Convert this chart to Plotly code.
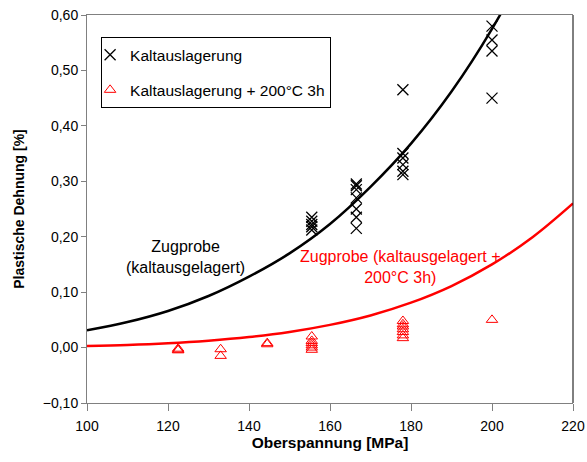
import plotly.graph_objects as go

# ---- data ----
x_kalt = [155.5]*5 + [166.5]*7 + [178]*6 + [200]*4
y_kalt = [0.235, 0.228, 0.222, 0.218, 0.212,
          0.295, 0.292, 0.285, 0.27, 0.25, 0.235, 0.215,
          0.35, 0.342, 0.33, 0.318, 0.312, 0.465,
          0.58, 0.555, 0.535, 0.45]

x_warm = [122.5]*3 + [133]*2 + [144.5]*2 + [155.5]*6 + [178]*7 + [200]
y_warm = [-0.002, -0.004, -0.005,
          -0.003, -0.015,
          0.006, 0.008,
          0.02, 0.012, 0.008, 0.004, 0.0, -0.004,
          0.048, 0.042, 0.038, 0.033, 0.028, 0.022, 0.017,
          0.05]

fit_x = [100, 110, 120, 130, 140, 150, 160, 170, 180, 190, 200, 210, 220]
fit_kalt = [0.031, 0.046, 0.066, 0.093, 0.128, 0.170, 0.223, 0.290, 0.368, 0.462, 0.575, 0.71, 0.87]
fit_warm = [0.003, 0.0047, 0.0077, 0.0123, 0.0189, 0.0282, 0.041, 0.058, 0.081, 0.111, 0.150, 0.199, 0.26]

x_ticks = [100, 120, 140, 160, 180, 200, 220]
y_ticks = [-0.10, 0.0, 0.10, 0.20, 0.30, 0.40, 0.50, 0.60]

FONT = "Liberation Sans, Arial, sans-serif"

fig = go.Figure()
fig.add_trace(go.Scatter(x=fit_x, y=fit_kalt, mode="lines", line=dict(color="black", width=2.5, shape="spline"),
                         showlegend=False, hoverinfo="skip"))
fig.add_trace(go.Scatter(x=fit_x, y=fit_warm, mode="lines", line=dict(color="#ff0000", width=2.5, shape="spline"),
                         showlegend=False, hoverinfo="skip"))
fig.add_trace(go.Scatter(x=x_kalt, y=y_kalt, mode="markers", name="Kaltauslagerung", legendgroup="a",
                         marker=dict(symbol="x-thin-open", size=11, color="black", line=dict(color="black", width=1.3))))
fig.add_trace(go.Scatter(x=x_warm, y=y_warm, mode="markers", name="Kaltauslagerung + 200°C 3h", legendgroup="b",
                         marker=dict(symbol="triangle-up-open", size=10, color="#ff0000", line=dict(color="#ff0000", width=1))))

fig.add_annotation(x=124.4, y=0.164, xref="x", yref="y", text="Zugprobe<br>(kaltausgelagert)", showarrow=False,
                   font=dict(family=FONT, size=16, color="black"), align="center")
fig.add_annotation(x=177.5, y=0.146, xref="x", yref="y", text="Zugprobe (kaltausgelagert +<br>200°C 3h)", showarrow=False,
                   font=dict(family=FONT, size=16, color="#ff0000"), align="center")

fig.add_shape(type="line", xref="paper", yref="paper", x0=1, x1=1, y0=0, y1=1, line=dict(color="black", width=1))

fig.update_layout(
    width=587, height=462,
    margin=dict(l=87, r=14, t=15, b=59, autoexpand=False),
    paper_bgcolor="white", plot_bgcolor="white",
    separators=", ",
    font=dict(family=FONT, size=14, color="black"),
    showlegend=True,
    legend=dict(x=0.029, y=0.943, xanchor="left", yanchor="top", bgcolor="white",
                bordercolor="black", borderwidth=1, font=dict(family=FONT, size=15.5),
                traceorder="grouped", tracegroupgap=12, indentation=-12),
    xaxis=dict(range=[100, 220], tickvals=x_ticks, showgrid=False, zeroline=False, automargin=False,
               showline=True, linecolor="#808080", linewidth=1, mirror=True,
               ticks="outside", ticklen=7, tickcolor="#808080", ticklabelstandoff=3,
               ticklabeloverflow="allow",
               tickfont=dict(family=FONT, size=14),
               title=dict(text="<b>Oberspannung [MPa]</b>", font=dict(family=FONT, size=15.5), standoff=3)),
    yaxis=dict(range=[-0.10, 0.60], tickvals=y_ticks, tickformat=".2f", showgrid=False, zeroline=False, automargin=False,
               showline=True, linecolor="#808080", linewidth=1,
               ticks="outside", ticklen=5, tickcolor="#808080",
               ticklabeloverflow="allow",
               tickfont=dict(family=FONT, size=14),
               title=dict(text="<b>Plastische Dehnung [%]</b>", font=dict(family=FONT, size=14), standoff=14)),
)

fig.write_html("out.html", config={"displayModeBar": False},
               post_script="document.body.style.margin='0';document.body.style.overflow='hidden';")
